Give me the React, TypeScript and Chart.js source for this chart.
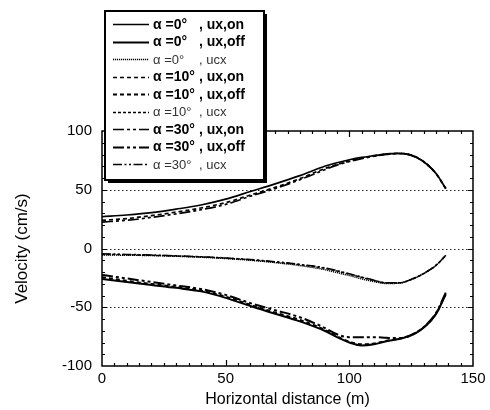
import React, { useEffect, useRef } from "react";
import { Chart, registerables } from "chart.js";

Chart.register(...registerables);

// Horizontal distance (m) of each sample
const distance = [0, 10, 20, 30, 40, 50, 60, 70, 80, 90, 95, 100, 105, 110, 115, 120, 125, 130, 135, 139];

// Velocity (cm/s), ux,on
const uxOn0 = [27, 28.5, 30.5, 33.5, 37, 42, 48.5, 55, 62, 70, 73, 75.5, 77.5, 79, 80.5, 81, 79.5, 74, 64, 51];
const uxOn10 = [24, 25.5, 28, 31, 34.5, 39, 45.5, 52, 59.5, 68, 71.5, 74.5, 77, 78.8, 80.3, 81, 79.5, 74, 64, 51];
const uxOn30 = [22.5, 24, 26.5, 29.5, 33, 37.5, 44.5, 51, 58.5, 67, 71, 74, 76.5, 78.5, 80, 80.8, 79.3, 73.8, 63.8, 50.8];

// Velocity (cm/s), ux,off
const uxOff0 = [-26, -28.5, -31, -33.5, -36.5, -42, -49, -55.5, -62, -70, -75.5, -80, -82.5, -81.5, -79, -77, -74, -67.5, -56, -39];
const uxOff10 = [-24.5, -27.5, -30.2, -32.8, -35.8, -41, -48, -54.5, -60.8, -69.2, -74.8, -79.2, -81.5, -80.8, -78.6, -76.8, -73.8, -67.3, -55.6, -38.5];
const uxOff30 = [-22.5, -25.5, -28.5, -31.5, -34.5, -39.5, -46.5, -52.5, -58.5, -67.5, -73, -75.5, -75.5, -75.5, -76, -76.3, -73.5, -67, -55, -37.5];

// Velocity (cm/s), ucx
const ucx0 = [-5.5, -5.7, -6, -6.6, -7.4, -8.5, -10, -12, -14.5, -18, -20.5, -23, -25.8, -28.2, -29.8, -29.5, -26.5, -21.5, -14.5, -6];
const ucx10 = [-5, -5.3, -5.8, -6.4, -7.2, -8.2, -9.6, -11.5, -13.8, -16.8, -19.2, -21.8, -24.5, -27.2, -29.3, -29.3, -26.4, -21.4, -14.4, -6];
const ucx30 = [-4.5, -5, -5.5, -6.2, -7, -8, -9.4, -11.2, -13.5, -16.4, -18.8, -21.5, -24.3, -27, -29.2, -29.2, -26.3, -21.3, -14.3, -5.8];

const alphaLabels = ["α =0°", "α =10°", "α =30°"];
const kindLabels = ["ux,on", "ux,off", "ucx"];

const xTicks = { min: 0, max: 150, step: 50, minor: 5 };
const yTicks = { min: -100, max: 100, step: 50, minor: 10 };

const FONT = "'Liberation Sans', Arial, Helvetica, sans-serif";

// line pattern per inclination angle, for the ux curves and the thinner ucx curves
const uxDash = [[], [4, 3], [11, 3, 3, 3, 3, 3]];
const ucxDash = [[1.2, 0.8], [3, 2], [9, 2.5, 2, 2.5, 2, 2.5]];

const seriesByAlpha = [
  [uxOn0, uxOff0, ucx0],
  [uxOn10, uxOff10, ucx10],
  [uxOn30, uxOff30, ucx30],
];

type Meta = { alpha: string; kind: string; ucx: boolean };

function buildDatasets() {
  const out: any[] = [];
  seriesByAlpha.forEach((group, a) => {
    group.forEach((values, k) => {
      const ucx = k === 2;
      out.push({
        label: `${alphaLabels[a]} , ${kindLabels[k]}`,
        meta: { alpha: alphaLabels[a], kind: kindLabels[k], ucx } as Meta,
        data: distance.map((x, i) => ({ x, y: values[i] })),
        borderColor: "#000",
        backgroundColor: "#000",
        borderWidth: ucx ? 1.5 : k === 1 ? 2 : 1.7,
        borderDash: ucx ? ucxDash[a] : uxDash[a],
        pointRadius: 0,
        cubicInterpolationMode: "monotone",
        fill: false,
      });
    });
  });
  return out;
}

const framePlugin = {
  id: "frame",
  beforeDatasetsDraw(chart: any) {
    const { ctx, chartArea: a } = chart;
    const y = chart.scales.y;
    ctx.save();
    ctx.strokeStyle = "#222";
    ctx.lineWidth = 1.2;
    ctx.setLineDash([1.5, 2.5]);
    y.ticks.forEach((t: any) => {
      if (t.value <= y.min || t.value >= y.max) return;
      const py = Math.round(y.getPixelForValue(t.value)) + 0.5;
      ctx.beginPath();
      ctx.moveTo(a.left, py);
      ctx.lineTo(a.right, py);
      ctx.stroke();
    });
    ctx.restore();
  },
  afterDatasetsDraw(chart: any) {
    const { ctx, chartArea: a } = chart;
    const x = chart.scales.x;
    const y = chart.scales.y;
    ctx.save();
    ctx.strokeStyle = "#000";
    ctx.lineWidth = 1.5;
    ctx.strokeRect(a.left, a.top, a.right - a.left, a.bottom - a.top);
    ctx.lineWidth = 1.2;
    ctx.beginPath();
    for (let v = xTicks.min + xTicks.minor; v < xTicks.max; v += xTicks.minor) {
      const px = Math.round(x.getPixelForValue(v)) + 0.5;
      const len = v % xTicks.step === 0 ? 6 : 3;
      ctx.moveTo(px, a.bottom);
      ctx.lineTo(px, a.bottom - len);
      ctx.moveTo(px, a.top);
      ctx.lineTo(px, a.top + len);
    }
    for (let v = yTicks.min + yTicks.minor; v < yTicks.max; v += yTicks.minor) {
      const py = Math.round(y.getPixelForValue(v)) + 0.5;
      const len = v % yTicks.step === 0 ? 5 : 3;
      ctx.moveTo(a.left, py);
      ctx.lineTo(a.left + len, py);
      ctx.moveTo(a.right, py);
      ctx.lineTo(a.right - len, py);
    }
    ctx.stroke();
    ctx.restore();
  },
  afterDraw(chart: any) {
    const { ctx, chartArea: a } = chart;
    ctx.save();
    // axis titles
    ctx.fillStyle = "#000";
    ctx.textAlign = "center";
    ctx.textBaseline = "middle";
    ctx.font = `16px ${FONT}`;
    ctx.fillText("Horizontal distance (m)", (a.left + a.right) / 2, 400);
    ctx.translate(22, (a.top + a.bottom) / 2);
    ctx.rotate(-Math.PI / 2);
    ctx.font = `17px ${FONT}`;
    ctx.fillText("Velocity (cm/s)", 0, 0);
    ctx.restore();

    // legend box with drop shadow
    const bx = 105, by = 11, bw = 159, bh = 169;
    ctx.save();
    ctx.fillStyle = "#000";
    ctx.fillRect(bx + 3, by + 3, bw, bh);
    ctx.fillStyle = "#fff";
    ctx.fillRect(bx, by, bw, bh);
    ctx.strokeStyle = "#000";
    ctx.lineWidth = 2;
    ctx.strokeRect(bx, by, bw, bh);

    const rowTop = 24;
    const rowStep = 17.5;
    chart.data.datasets.forEach((ds: any, i: number) => {
      const m: Meta = ds.meta;
      const ry = rowTop + i * rowStep;
      ctx.save();
      ctx.strokeStyle = "#000";
      ctx.lineWidth = ds.borderWidth;
      ctx.setLineDash(ds.borderDash);
      ctx.beginPath();
      ctx.moveTo(113, Math.round(ry) + 0.5);
      ctx.lineTo(149, Math.round(ry) + 0.5);
      ctx.stroke();
      ctx.restore();
      ctx.textAlign = "left";
      ctx.textBaseline = "middle";
      if (m.ucx) {
        ctx.fillStyle = "#333";
        ctx.font = `13px ${FONT}`;
      } else {
        ctx.fillStyle = "#000";
        ctx.font = `bold 14px ${FONT}`;
      }
      ctx.fillText(m.alpha, 153, ry + 1);
      ctx.fillText(", " + m.kind, 199, ry + 1);
    });
    ctx.restore();
  },
};

export default function App() {
  const ref = useRef<HTMLCanvasElement>(null);

  useEffect(() => {
    if (!ref.current) return;
    const chart = new Chart(ref.current, {
      type: "line",
      data: { datasets: buildDatasets() },
      options: {
        animation: false,
        responsive: false,
        devicePixelRatio: 1,
        layout: { padding: { top: 131, right: 17, left: 0, bottom: 0 } },
        plugins: {
          legend: { display: false },
          tooltip: { enabled: false },
        },
        scales: {
          x: {
            type: "linear",
            min: xTicks.min,
            max: xTicks.max,
            ticks: {
              stepSize: xTicks.step,
              color: "#000",
              font: { family: FONT, size: 15 },
              padding: 4,
              maxRotation: 0,
            },
            grid: { display: false, drawTicks: false },
            border: { display: false },
            afterFit: (s: any) => {
              s.height = 44;
            },
          },
          y: {
            type: "linear",
            min: yTicks.min,
            max: yTicks.max,
            ticks: {
              stepSize: yTicks.step,
              color: "#000",
              font: { family: FONT, size: 15 },
              padding: 10,
            },
            grid: { display: false, drawTicks: false },
            border: { display: false },
            afterFit: (s: any) => {
              s.width = 102;
            },
          },
        },
      } as any,
      plugins: [framePlugin],
    });
    return () => chart.destroy();
  }, []);

  return (
    <div style={{ position: "absolute", left: 0, top: 0, width: 490, height: 410, background: "#fff" }}>
      <canvas ref={ref} width={490} height={410} style={{ display: "block", width: 490, height: 410 }} />
    </div>
  );
}
